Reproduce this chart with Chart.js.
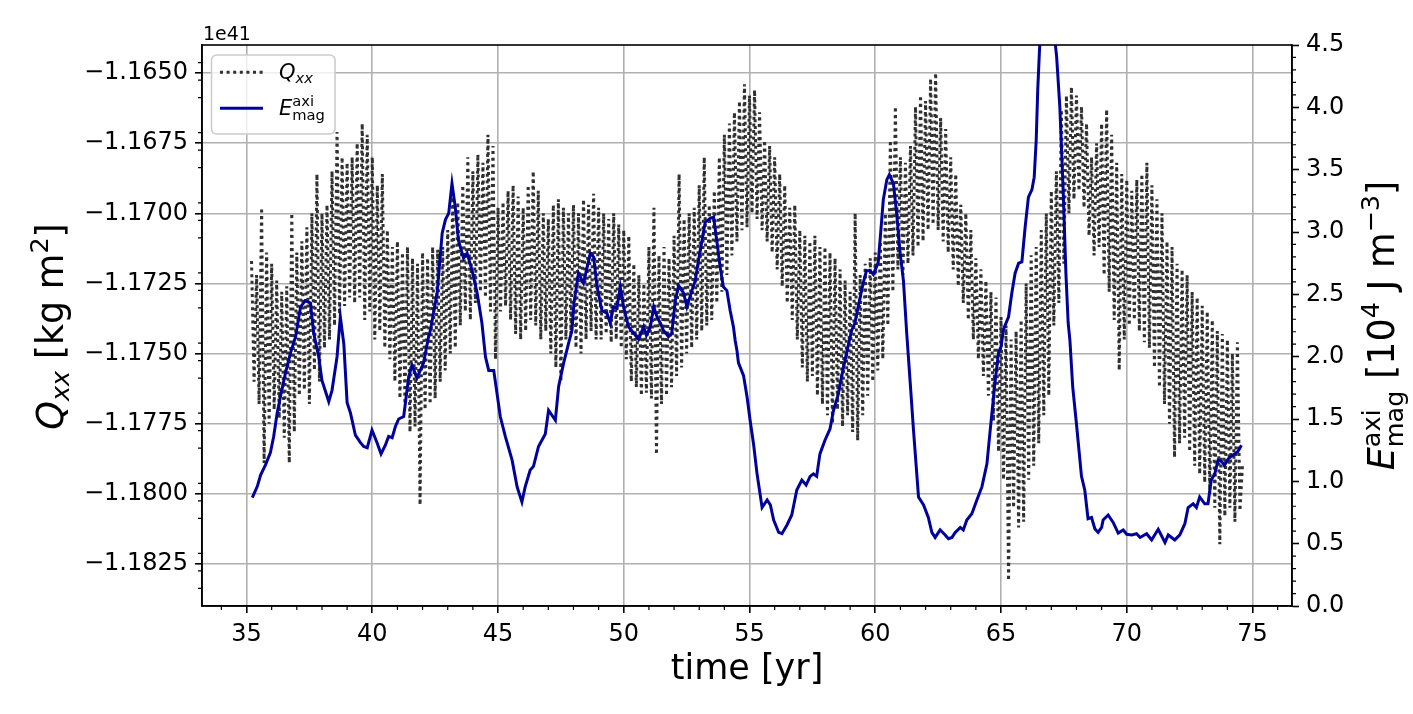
<!DOCTYPE html>
<html><head><meta charset="utf-8">
<script src="https://cdn.jsdelivr.net/npm/chart.js@4.4.0/dist/chart.umd.min.js"></script>
<style>html,body{margin:0;padding:0;background:#fff;overflow:hidden}</style>
</head><body><canvas id="c" width="1413" height="714"></canvas>
<script>
// ---------------- data ----------------
// Q_xx sampled every 0.1 yr from 35.2 yr (values in units of 1e41 kg m^2)
const qStart = 35.2, qStep = 0.1;
const qVal = [
-1.1717,-1.1760,-1.1722,-1.1768,-1.1698,-1.1789,-1.1714,-1.1775,
-1.1718,-1.1770,-1.1724,-1.1773,-1.1728,-1.1780,-1.1726,-1.1789,-1.1700,-1.1778,
-1.1714,-1.1765,-1.1710,-1.1763,-1.1705,-1.1768,-1.1700,-1.1756,-1.1686,-1.1760,
-1.1700,-1.1748,-1.1697,-1.1745,-1.1685,-1.1740,-1.1671,-1.1736,-1.1680,-1.1733,
-1.1682,-1.1730,-1.1680,-1.1732,-1.1675,-1.1730,-1.1668,-1.1738,-1.1672,-1.1735,
-1.1680,-1.1745,-1.1690,-1.1742,-1.1686,-1.1748,-1.1706,-1.1752,-1.1712,-1.1760,
-1.1710,-1.1766,-1.1714,-1.1768,-1.1712,-1.1778,-1.1716,-1.1776,-1.1718,-1.1804,
-1.1714,-1.1770,-1.1716,-1.1768,-1.1712,-1.1766,-1.1713,-1.1760,-1.1712,-1.1756,
-1.1706,-1.1750,-1.1693,-1.1748,-1.1696,-1.1740,-1.1690,-1.1735,-1.1680,-1.1738,
-1.1685,-1.1732,-1.1679,-1.1728,-1.1682,-1.1730,-1.1672,-1.1735,-1.1676,-1.1752,
-1.1698,-1.1735,-1.1696,-1.1733,-1.1692,-1.1738,-1.1690,-1.1743,-1.1694,-1.1745,
-1.1698,-1.1742,-1.1690,-1.1738,-1.1685,-1.1740,-1.1692,-1.1745,-1.1700,-1.1742,
-1.1702,-1.1750,-1.1697,-1.1755,-1.1695,-1.1760,-1.1698,-1.1745,-1.1700,-1.1743,
-1.1697,-1.1748,-1.1700,-1.1750,-1.1695,-1.1745,-1.1697,-1.1742,-1.1693,-1.1745,
-1.1698,-1.1745,-1.1700,-1.1743,-1.1702,-1.1746,-1.1700,-1.1745,-1.1704,-1.1748,
-1.1706,-1.1752,-1.1708,-1.1760,-1.1718,-1.1762,-1.1722,-1.1765,-1.1725,-1.1764,
-1.1712,-1.1766,-1.1698,-1.1786,-1.1715,-1.1768,-1.1712,-1.1765,-1.1716,-1.1762,
-1.1708,-1.1758,-1.1686,-1.1755,-1.1702,-1.1750,-1.1700,-1.1748,-1.1698,-1.1745,
-1.1690,-1.1742,-1.1680,-1.1740,-1.1697,-1.1738,-1.1692,-1.1732,-1.1680,-1.1728,
-1.1672,-1.1722,-1.1668,-1.1715,-1.1664,-1.1710,-1.1660,-1.1706,-1.1654,-1.1705,
-1.1658,-1.1700,-1.1656,-1.1702,-1.1664,-1.1706,-1.1674,-1.1710,-1.1676,-1.1714,
-1.1680,-1.1720,-1.1686,-1.1726,-1.1690,-1.1732,-1.1698,-1.1738,-1.1697,-1.1745,
-1.1706,-1.1755,-1.1708,-1.1760,-1.1710,-1.1758,-1.1708,-1.1765,-1.1712,-1.1768,
-1.1712,-1.1772,-1.1714,-1.1775,-1.1716,-1.1770,-1.1720,-1.1776,-1.1724,-1.1772,
-1.1728,-1.1778,-1.1700,-1.1781,-1.1722,-1.1772,-1.1718,-1.1765,-1.1716,-1.1760,
-1.1714,-1.1756,-1.1710,-1.1752,-1.1700,-1.1740,-1.1674,-1.1728,-1.1662,-1.1720,
-1.1680,-1.1722,-1.1682,-1.1718,-1.1676,-1.1715,-1.1662,-1.1712,-1.1658,-1.1710,
-1.1660,-1.1706,-1.1652,-1.1704,-1.1650,-1.1706,-1.1666,-1.1710,-1.1670,-1.1714,
-1.1680,-1.1720,-1.1686,-1.1726,-1.1697,-1.1732,-1.1700,-1.1738,-1.1706,-1.1745,
-1.1716,-1.1752,-1.1720,-1.1758,-1.1724,-1.1765,-1.1728,-1.1774,-1.1730,-1.1785,
-1.1737,-1.1795,-1.1740,-1.1831,-1.1745,-1.1805,-1.1742,-1.1812,-1.1738,-1.1810,
-1.1725,-1.1795,-1.1715,-1.1790,-1.1712,-1.1782,-1.1706,-1.1772,-1.1700,-1.1765,
-1.1692,-1.1740,-1.1685,-1.1732,-1.1663,-1.1718,-1.1658,-1.1700,-1.1655,-1.1695,
-1.1658,-1.1692,-1.1662,-1.1698,-1.1668,-1.1708,-1.1680,-1.1715,-1.1675,-1.1712,
-1.1668,-1.1722,-1.1663,-1.1728,-1.1672,-1.1738,-1.1682,-1.1756,-1.1686,-1.1745,
-1.1688,-1.1740,-1.1692,-1.1738,-1.1688,-1.1742,-1.1686,-1.1746,-1.1682,-1.1748,
-1.1690,-1.1755,-1.1695,-1.1762,-1.1700,-1.1768,-1.1710,-1.1775,-1.1712,-1.1787,
-1.1718,-1.1782,-1.1720,-1.1780,-1.1722,-1.1785,-1.1728,-1.1790,-1.1730,-1.1793,
-1.1733,-1.1796,-1.1735,-1.1800,-1.1738,-1.1805,-1.1742,-1.1818,-1.1743,-1.1808,
-1.1745,-1.1805,-1.1750,-1.1810,-1.1746,-1.1806,-1.1790
];

// E_mag^axi (10^4 J m^-3)
const eTime = [
35.23,35.43,35.56,35.75,35.95,36.08,36.22,36.35,36.55,36.75,36.95,37.15,37.34,37.54,37.67,37.87,38.00,38.27,38.40,38.60,
38.73,38.87,39.00,39.13,39.33,39.53,39.66,39.80,39.99,40.19,40.35,40.52,40.65,40.79,40.92,41.05,41.25,41.45,41.58,41.78,
42.04,42.24,42.31,42.58,42.78,42.91,43.04,43.17,43.30,43.43,43.63,43.77,43.97,44.17,44.36,44.50,44.63,44.83,45.09,45.29,
45.56,45.76,45.95,46.08,46.28,46.41,46.61,46.88,47.01,47.28,47.41,47.61,47.81,47.94,48.02,48.20,48.40,48.67,48.80,48.94,
49.13,49.33,49.46,49.59,49.73,49.86,49.99,50.19,50.39,50.59,50.79,50.90,51.06,51.19,51.32,51.45,51.58,51.78,51.91,52.05,
52.18,52.38,52.51,52.71,52.84,52.97,53.11,53.24,53.44,53.57,53.70,53.83,53.96,54.10,54.23,54.36,54.43,54.50,54.56,54.76,
54.90,55.03,55.16,55.30,55.50,55.70,55.83,55.96,56.16,56.29,56.49,56.68,56.88,57.08,57.25,57.41,57.54,57.67,57.80,58.00,
58.20,58.33,58.53,58.66,58.86,59.06,59.19,59.32,59.52,59.65,59.80,59.92,60.05,60.12,60.19,60.32,60.46,60.56,60.72,60.85,
60.99,61.12,61.25,61.39,61.52,61.72,61.92,62.11,62.25,62.38,62.58,62.78,62.91,63.05,63.18,63.38,63.50,63.64,63.84,64.04,
64.24,64.44,64.57,64.77,64.90,65.00,65.10,65.30,65.43,65.56,65.70,65.83,65.96,66.09,66.23,66.32,66.40,66.46,66.53,66.62,
66.80,67.00,67.14,67.21,67.34,67.47,67.58,67.67,67.74,67.85,68.00,68.20,68.33,68.46,68.60,68.73,68.86,69.00,69.06,69.26,
69.46,69.66,69.86,70.00,70.20,70.39,70.53,70.79,70.99,71.25,71.52,71.65,71.91,72.11,72.31,72.44,72.64,72.77,72.90,73.10,
73.23,73.36,73.50,73.63,73.76,73.89,74.03,74.22,74.42,74.56
];
const eVal = [
0.87,0.96,1.05,1.13,1.23,1.36,1.55,1.68,1.87,2.03,2.16,2.40,2.45,2.43,2.19,2.00,1.81,1.64,1.73,2.00,
2.32,2.10,1.63,1.55,1.37,1.31,1.28,1.27,1.41,1.31,1.22,1.29,1.36,1.35,1.44,1.50,1.52,1.84,1.93,1.83,
1.95,2.16,2.21,2.51,2.99,3.10,3.15,3.39,3.20,2.93,2.79,2.83,2.69,2.51,2.27,2.00,1.89,1.89,1.52,1.36,
1.17,0.955,0.835,0.955,1.09,1.12,1.28,1.38,1.57,1.49,1.76,1.95,2.11,2.21,2.43,2.67,2.59,2.83,2.80,2.56,
2.37,2.35,2.27,2.40,2.39,2.56,2.40,2.24,2.19,2.14,2.24,2.17,2.24,2.40,2.32,2.27,2.21,2.16,2.19,2.45,
2.57,2.51,2.40,2.53,2.61,2.77,2.93,3.08,3.11,3.12,2.93,2.72,2.56,2.53,2.37,2.24,2.13,2.05,1.95,1.85,
1.68,1.48,1.30,1.06,0.79,0.85,0.81,0.69,0.59,0.58,0.65,0.73,0.93,1.01,0.97,1.04,1.06,1.04,1.22,1.33,
1.42,1.56,1.70,1.84,2.03,2.21,2.27,2.40,2.59,2.69,2.69,2.66,2.72,2.76,2.93,3.26,3.42,3.46,3.39,3.15,
2.83,2.61,2.19,1.79,1.41,0.875,0.81,0.71,0.59,0.55,0.61,0.57,0.54,0.55,0.59,0.63,0.61,0.69,0.74,0.85,
0.955,1.14,1.41,1.81,2.03,2.08,2.22,2.32,2.51,2.67,2.75,2.76,3.04,3.28,3.34,3.44,3.74,4.14,4.46,4.75,
5.00,4.85,4.54,4.41,4.00,3.34,2.67,2.27,2.13,1.76,1.46,1.04,0.93,0.70,0.71,0.62,0.59,0.63,0.69,0.73,
0.67,0.585,0.61,0.575,0.57,0.58,0.55,0.58,0.53,0.615,0.51,0.57,0.53,0.57,0.66,0.79,0.82,0.79,0.875,0.82,
0.82,1.01,1.06,1.17,1.16,1.13,1.18,1.21,1.24,1.29
];

// tick labels
const xTicks = [35,40,45,50,55,60,65,70,75];
const qTicks = [-1.1825,-1.1800,-1.1775,-1.1750,-1.1725,-1.1700,-1.1675,-1.1650];
const eTicks = [0.0,0.5,1.0,1.5,2.0,2.5,3.0,3.5,4.0,4.5];

// ---------------- chart ----------------
const FONT = "'DejaVu Sans', sans-serif";
const MINUS = '\u2212';
const Q_COLOR = '#303030', E_COLOR = '#00009c';
const Q_WIDTH = 3, Q_DASH = [3, 3.6];

function drawRich(ctx, segs, x, y, rot, align) {
  ctx.save();
  ctx.translate(x, y);
  ctx.rotate(rot);
  let w = 0, prevX = 0;
  const pos = [];
  for (const s of segs) {
    ctx.font = (s.it ? 'italic ' : '') + s.sz + 'px ' + FONT;
    const mw = ctx.measureText(s.t).width;
    let sx;
    if (s.stack) { sx = prevX; w = Math.max(w, sx + mw); }
    else { sx = w; w = sx + mw; prevX = sx; }
    pos.push(sx);
  }
  const off = align === 'center' ? -w / 2 : 0;
  ctx.textAlign = 'left';
  ctx.textBaseline = 'alphabetic';
  ctx.fillStyle = '#000';
  segs.forEach((s, i) => {
    ctx.font = (s.it ? 'italic ' : '') + s.sz + 'px ' + FONT;
    ctx.fillText(s.t, off + pos[i], s.dy || 0);
  });
  ctx.restore();
}

const decor = {
  id: 'decor',
  afterDraw(chart) {
    const ctx = chart.ctx;
    const a = chart.chartArea;
    const sx = chart.scales.x, sl = chart.scales.yL, sr = chart.scales.yR;
    ctx.save();
    // frame
    ctx.strokeStyle = '#000';
    ctx.lineWidth = 1.6;
    ctx.strokeRect(a.left, a.top, a.right - a.left, a.bottom - a.top);
    // minor ticks
    ctx.lineWidth = 1.2;
    ctx.beginPath();
    for (let v = 34; v <= 76; v += 1) {
      if (v % 5 === 0) continue;
      const px = sx.getPixelForValue(v);
      ctx.moveTo(px, a.bottom); ctx.lineTo(px, a.bottom + 4);
    }
    for (let k = 0; k <= 32; k++) {
      const v = -1.184 + k * 0.000625;
      if (k % 4 === 0) continue;
      const py = sl.getPixelForValue(v);
      if (py < a.top - 0.5 || py > a.bottom + 0.5) continue;
      ctx.moveTo(a.left, py); ctx.lineTo(a.left - 4, py);
    }
    for (let k = 1; k < 45; k++) {
      if (k % 5 === 0) continue;
      const py = sr.getPixelForValue(k / 10);
      ctx.moveTo(a.right, py); ctx.lineTo(a.right + 4, py);
    }
    ctx.stroke();

    // offset text
    ctx.fillStyle = '#000';
    ctx.font = '19px ' + FONT;
    ctx.textAlign = 'left';
    ctx.textBaseline = 'alphabetic';
    ctx.fillText('1e41', a.left + 1, 39.5);

    // axis titles
    drawRich(ctx, [{t: 'time [yr]', sz: 35}], (a.left + a.right) / 2, 679, 0, 'center');
    const cy = (a.top + a.bottom) / 2;
    drawRich(ctx, [
      {t: 'Q', it: 1, sz: 36.5},
      {t: 'xx', it: 1, sz: 25.5, dy: 6},
      {t: ' [kg m', sz: 36.5},
      {t: '2', sz: 25.5, dy: -15.5},
      {t: ']', sz: 36.5}
    ], 63, cy + 1, -Math.PI / 2, 'center');
    drawRich(ctx, [
      {t: 'E', it: 1, sz: 36.5},
      {t: 'mag', sz: 25.5, dy: 9},
      {t: 'axi', sz: 25.5, dy: -14.5, stack: 1},
      {t: ' [10', sz: 36.5},
      {t: '4', sz: 25.5, dy: -15.5},
      {t: ' J m', sz: 36.5},
      {t: MINUS + '3', sz: 25.5, dy: -15.5},
      {t: ']', sz: 36.5}
    ], 1394, cy, -Math.PI / 2, 'center');

    // legend
    const lx = 211.5, ly = 55, lw = 123.5, lh = 79, r = 5;
    ctx.beginPath();
    ctx.moveTo(lx + r, ly);
    ctx.arcTo(lx + lw, ly, lx + lw, ly + lh, r);
    ctx.arcTo(lx + lw, ly + lh, lx, ly + lh, r);
    ctx.arcTo(lx, ly + lh, lx, ly, r);
    ctx.arcTo(lx, ly, lx + lw, ly, r);
    ctx.closePath();
    ctx.fillStyle = 'rgba(255,255,255,0.8)';
    ctx.fill();
    ctx.strokeStyle = '#cccccc';
    ctx.lineWidth = 1.6;
    ctx.stroke();

    ctx.lineCap = 'butt';
    ctx.strokeStyle = Q_COLOR;
    ctx.lineWidth = Q_WIDTH;
    ctx.setLineDash(Q_DASH);
    ctx.beginPath(); ctx.moveTo(220, 72.3); ctx.lineTo(263, 72.3); ctx.stroke();
    ctx.setLineDash([]);
    ctx.strokeStyle = E_COLOR;
    ctx.lineWidth = 3;
    ctx.beginPath(); ctx.moveTo(220, 108.3); ctx.lineTo(263, 108.3); ctx.stroke();
    ctx.restore();

    drawRich(ctx, [
      {t: 'Q', it: 1, sz: 21},
      {t: 'xx', it: 1, sz: 14.7, dy: 3.5}
    ], 279, 79, 0, 'left');
    drawRich(ctx, [
      {t: 'E', it: 1, sz: 21},
      {t: 'mag', sz: 14.7, dy: 5},
      {t: 'axi', sz: 14.7, dy: -8.5, stack: 1}
    ], 279, 114.5, 0, 'left');
  }
};

const tickFont = {family: FONT, size: 24};
new Chart(document.getElementById('c'), {
  type: 'line',
  data: {
    datasets: [
      {
        label: 'E_mag^axi',
        data: eTime.map((t, i) => ({x: t, y: eVal[i]})),
        yAxisID: 'yR',
        borderColor: E_COLOR,
        borderWidth: 3,
        pointRadius: 0,
        tension: 0,
        fill: false,
        order: 1
      },
      {
        label: 'Q_xx',
        data: qVal.map((v, i) => ({x: +(qStart + i * qStep).toFixed(2), y: v})),
        yAxisID: 'yL',
        borderColor: Q_COLOR,
        borderWidth: Q_WIDTH,
        borderDash: Q_DASH,
        borderCapStyle: 'butt',
        pointRadius: 0,
        tension: 0,
        fill: false,
        order: 2
      }
    ]
  },
  options: {
    responsive: false,
    animation: false,
    devicePixelRatio: 1,
    layout: {padding: {top: 45, left: 0, right: 0, bottom: 0}},
    plugins: {legend: {display: false}, tooltip: {enabled: false}, title: {display: false}},
    scales: {
      x: {
        type: 'linear', min: 33.23, max: 76.57,
        afterBuildTicks: s => { s.ticks = xTicks.map(v => ({value: v})); },
        afterFit: s => { s.height = 108; },
        ticks: {font: tickFont, color: '#000', padding: 7, maxRotation: 0, autoSkip: false, callback: v => String(v)},
        grid: {color: '#b0b0b0', lineWidth: 1.6, tickLength: 7, tickColor: '#000', tickWidth: 1.6},
        border: {color: '#000', width: 1.6}
      },
      yL: {
        type: 'linear', position: 'left', min: -1.184, max: -1.164,
        afterBuildTicks: s => { s.ticks = qTicks.map(v => ({value: v})); },
        afterFit: s => { s.width = 202; },
        ticks: {font: tickFont, color: '#000', padding: 7, autoSkip: false,
          callback: v => (v < 0 ? MINUS : '') + Math.abs(v).toFixed(4)},
        grid: {color: '#b0b0b0', lineWidth: 1.6, tickLength: 7, tickColor: '#000', tickWidth: 1.6},
        border: {color: '#000', width: 1.6}
      },
      yR: {
        type: 'linear', position: 'right', min: 0, max: 4.5,
        afterBuildTicks: s => { s.ticks = eTicks.map(v => ({value: v})); },
        afterFit: s => { s.width = 121; },
        ticks: {font: tickFont, color: '#000', padding: 7, autoSkip: false, callback: v => v.toFixed(1)},
        grid: {drawOnChartArea: false, tickLength: 7, tickColor: '#000', tickWidth: 1.6},
        border: {color: '#000', width: 1.6}
      }
    }
  },
  plugins: [decor]
});
</script>
</body></html>
